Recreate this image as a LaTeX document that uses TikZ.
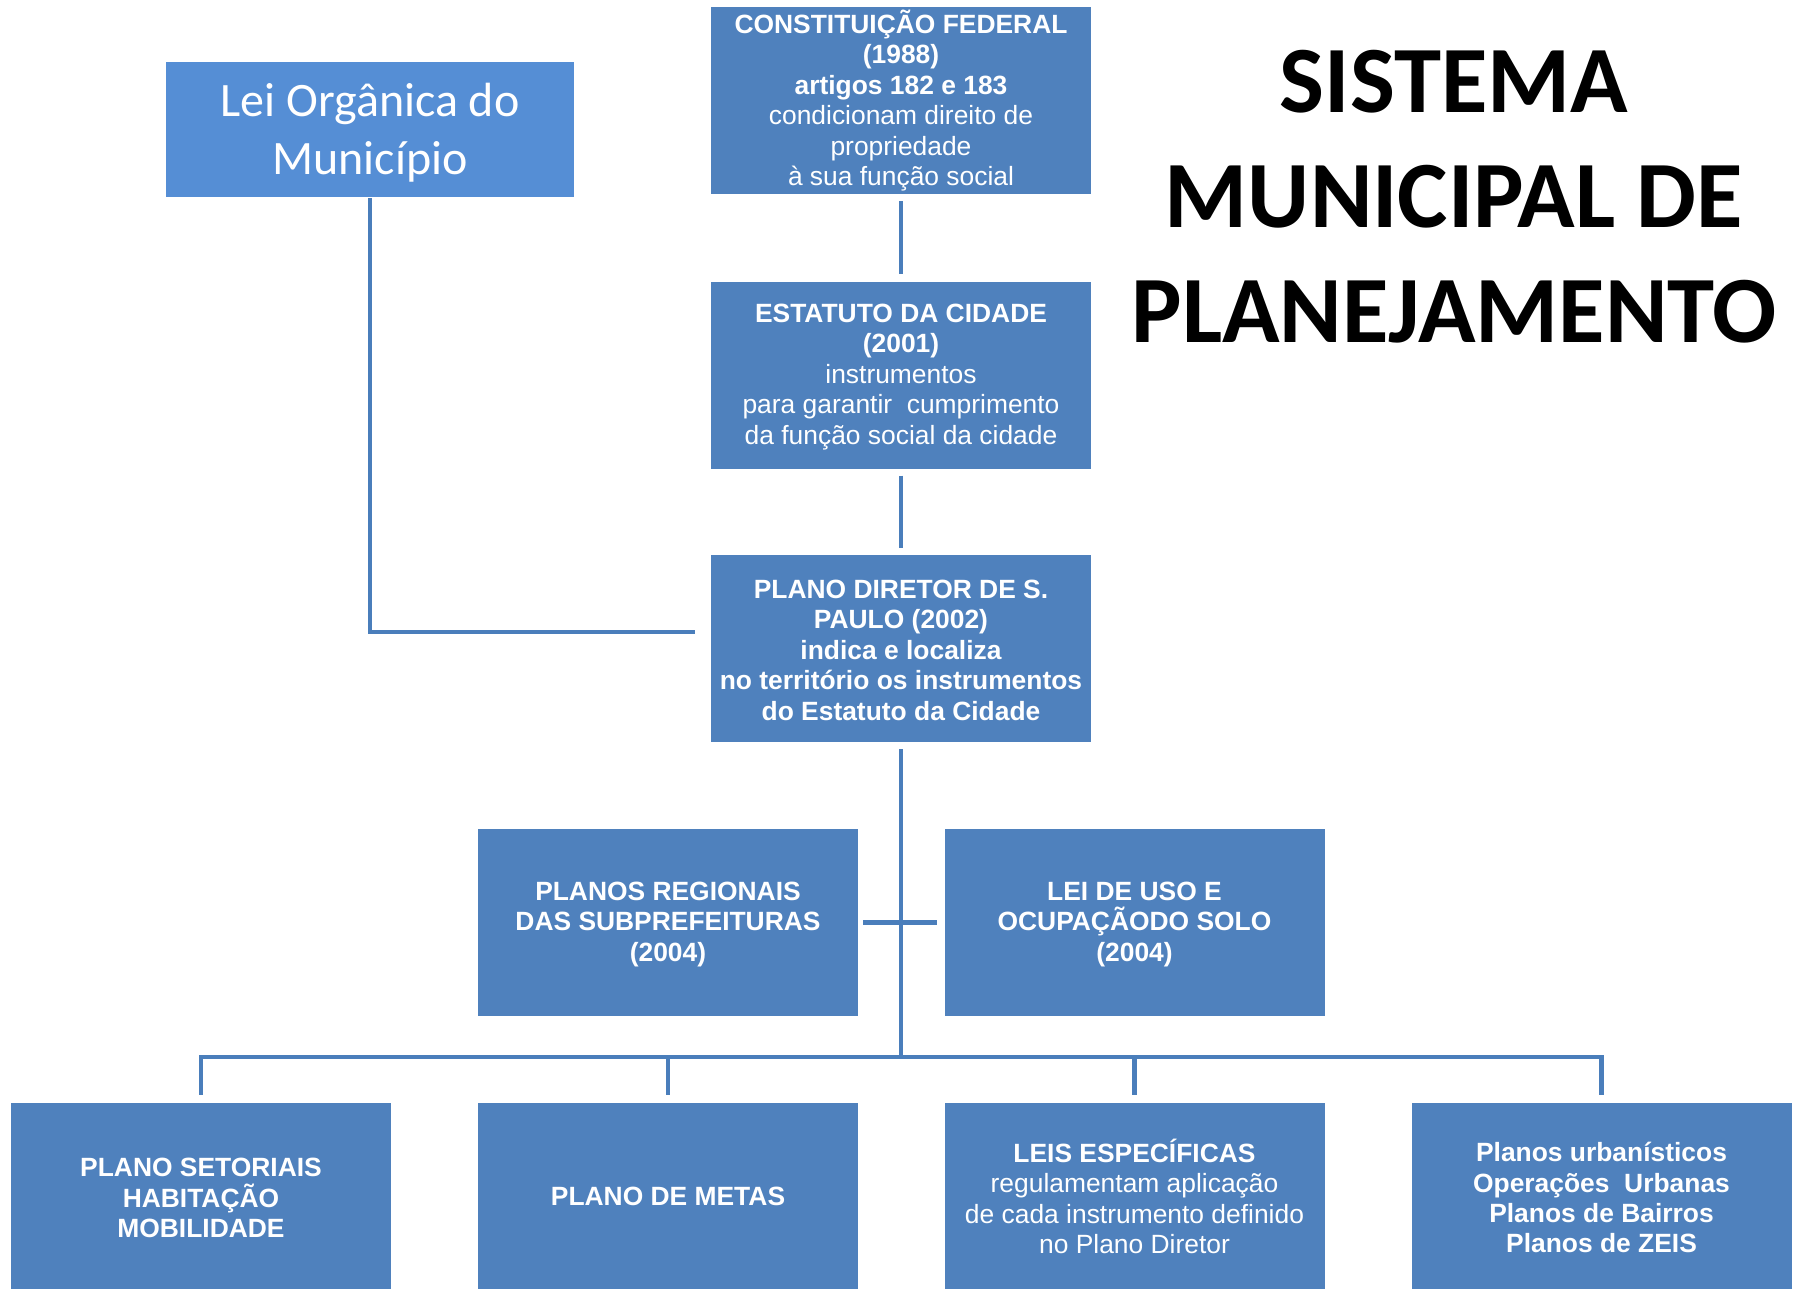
\documentclass[tikz,border=0pt]{standalone}
\usepackage{fontspec}
\newfontfamily\arialf{Liberation Sans}
\newfontfamily\calib{Carlito}
\definecolor{boxblue}{HTML}{4F81BD}
\definecolor{leiblue}{HTML}{558ED5}
\definecolor{lineblue}{HTML}{4A7EBB}
\newcommand{\tp}{\rule{0pt}{22bp}}
\tikzset{
  bluebox/.style={fill=boxblue, draw=none, text=white, minimum width=380bp, minimum height=187bp, inner sep=2bp, align=center,
    font=\arialf\fontsize{26.4bp}{30.4bp}\selectfont},
  boldbox/.style={bluebox, font=\arialf\bfseries\fontsize{26.4bp}{30.4bp}\selectfont},
  leibox/.style={fill=leiblue, draw=none, text=white, minimum width=408bp, minimum height=135bp, inner sep=2bp, align=center,
    font=\calib\fontsize{48bp}{58bp}\selectfont},
  titletext/.style={text=black, align=center, inner sep=0pt, font=\calib\bfseries\fontsize{95bp}{115bp}\selectfont},
  conn/.style={draw=lineblue, line width=4.6bp}
}
\begin{document}
\begin{tikzpicture}[x=1bp,y=-1bp]
\clip (0,0) rectangle (1798,1288);
\fill[white] (0,0) rectangle (1798,1288);

\node[leibox] (lei) at (370,129.5) {\rule{0pt}{40bp}Lei Orgânica do\\Município};
\node[bluebox] (cf) at (901,100.5) {\tp\textbf{CONSTITUIÇÃO FEDERAL}\\\textbf{(1988)}\\\textbf{artigos 182 e 183}\\condicionam direito de\\propriedade\\à sua função social};
\node[bluebox] (es) at (901,375) {\tp\textbf{ESTATUTO DA CIDADE}\\\textbf{(2001)}\\instrumentos\\para garantir\ \ cumprimento\\da função social da cidade};
\node[boldbox] (pd) at (901,648.5) {\tp PLANO DIRETOR DE S.\\PAULO (2002)\\indica e localiza\\no território os instrumentos\\do Estatuto da Cidade};
\node[boldbox] (pr) at (668,922.5) {\tp PLANOS REGIONAIS\\DAS SUBPREFEITURAS\\(2004)};
\node[boldbox] (lu) at (1134.5,922.5) {\tp LEI DE USO E\\OCUPAÇÃODO SOLO\\(2004)};
\node[boldbox] (b1) at (201,1196.5) {\tp PLANO SETORIAIS\\HABITAÇÃO\\MOBILIDADE};
\node[boldbox] (b2) at (668,1196.5) {PLANO DE METAS};
\node[bluebox] (b3) at (1134.5,1196.5) {\tp\textbf{LEIS ESPECÍFICAS}\\regulamentam aplicação\\de cada instrumento definido\\no Plano Diretor};
\node[boldbox] (b4) at (1601.5,1196.5) {\tp Planos urbanísticos\\Operações\ \ Urbanas\\Planos de Bairros\\Planos de ZEIS};

\node[titletext] (title) at (1454,197) {SISTEMA\\MUNICIPAL DE\\PLANEJAMENTO};

\coordinate (lj) at (695,632);
\coordinate (hub) at (901,1057);

\draw[conn, shorten <=7bp, shorten >=7bp] (cf.south) -- (es.north);
\draw[conn, shorten <=7bp, shorten >=7bp] (es.south) -- (pd.north);
\draw[conn, shorten <=1bp] (lei.south) |- (lj);
\draw[conn, shorten <=7bp] (pd.south) -- (hub);
\draw[conn, shorten <=5bp, shorten >=7bp] (pr.east) -- (lu.west);
\draw[conn, shorten <=8bp, shorten >=8bp] (b1.north) |- (hub) -| (b4.north);
\draw[conn, shorten <=8bp] (b2.north) -- (b2.north |- hub);
\draw[conn, shorten <=8bp] (b3.north) -- (b3.north |- hub);
\end{tikzpicture}
\end{document}
